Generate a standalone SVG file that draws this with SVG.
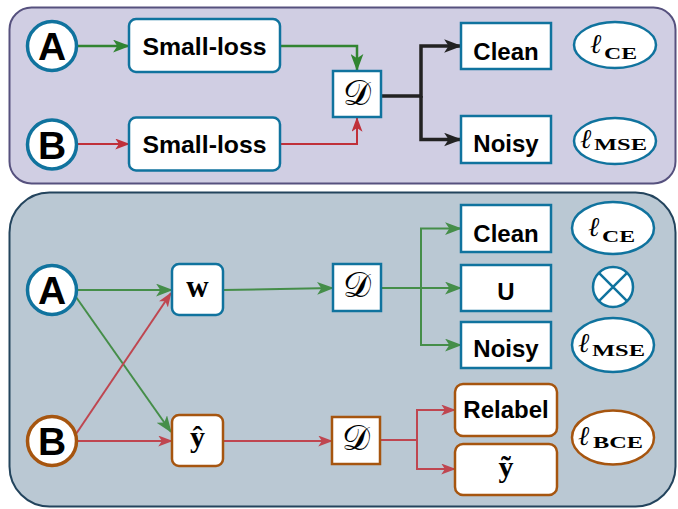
<svg xmlns="http://www.w3.org/2000/svg" width="678" height="509" viewBox="0 0 678 509">
  <style>
    .lbl { font-family: "Liberation Sans", Arial, sans-serif; font-weight: bold; font-size: 24px; fill: #000; text-anchor: middle; }
    .big { font-family: "Liberation Sans", Arial, sans-serif; font-weight: bold; font-size: 39px; fill: #000; text-anchor: middle; }
    .math { font-family: "Liberation Serif", "DejaVu Serif", serif; fill: #000; }
    .ell { font-family: "DejaVu Serif", "Liberation Serif", serif; font-size: 27px; font-style: italic; fill: #000; }
    .cal { font-family: "DejaVu Serif", "Noto Sans", "Liberation Serif", serif; font-size: 35px; fill: #000; text-anchor: middle; }
    .sub { font-family: "Liberation Serif", "DejaVu Serif", serif; font-weight: bold; font-size: 16px; }
    .node-b { fill: #fff; stroke: #10739e; stroke-width: 2.5; }
    .node-o { fill: #fff; stroke: #a6550f; stroke-width: 2.5; }
    .g { fill: none; stroke: #318431; stroke-width: 2.5; }
    .r { fill: none; stroke: #c0303a; stroke-width: 2; }
    .k { fill: none; stroke: #222; stroke-width: 3.5; }
    .soft { opacity: 0.85; }
    .soft .g { stroke-width: 2; }
  </style>
  <defs>
    <marker id="ag" viewBox="0 0 16 12" refX="15" refY="6" markerWidth="17" markerHeight="13" markerUnits="userSpaceOnUse" orient="auto">
      <path d="M0,0 L16,6 L0,12 L4,6 z" fill="#318431"/>
    </marker>
    <marker id="ar" viewBox="0 0 16 12" refX="15" refY="6" markerWidth="15" markerHeight="11" markerUnits="userSpaceOnUse" orient="auto">
      <path d="M0,0 L16,6 L0,12 L4,6 z" fill="#c0303a"/>
    </marker>
    <marker id="ak" viewBox="0 0 16 12" refX="15" refY="6" markerWidth="18" markerHeight="14" markerUnits="userSpaceOnUse" orient="auto">
      <path d="M0,0 L16,6 L0,12 L4,6 z" fill="#222"/>
    </marker>
  </defs>

  <!-- panels -->
  <rect id="panel-top" x="9.5" y="7.5" width="666" height="176" rx="22" fill="#d0cee3" stroke="#56517e" stroke-width="2"/>
  <rect id="panel-bottom" x="9.5" y="192.5" width="666" height="314" rx="40" fill="#bac8d3" stroke="#23445d" stroke-width="2"/>

  <!-- connectors -->
  <g id="connectors">
    <path class="g" d="M78,46 H129" marker-end="url(#ag)"/>
    <path class="r" d="M78,144 H129" marker-end="url(#ar)"/>
    <path class="g" d="M280,46 H357 V70" marker-end="url(#ag)"/>
    <path class="r" d="M280,144 H357 V118" marker-end="url(#ar)"/>
    <path class="k" d="M381,96 H421 V46 H461" marker-end="url(#ak)"/>
    <path class="k" d="M421,96 V139.5 H461" marker-end="url(#ak)"/>

    <g class="soft">
      <path class="g" d="M78,290 H172" marker-end="url(#ag)"/>
      <path class="g" d="M76,297 L171,432" marker-end="url(#ag)"/>
      <path class="r" d="M76,434 L171,293" marker-end="url(#ar)"/>
      <path class="r" d="M78,441 H172" marker-end="url(#ar)"/>
      <path class="g" d="M223,290 L333,288" marker-end="url(#ag)"/>
      <path class="r" d="M223,441 H332" marker-end="url(#ar)"/>
      <path class="g" d="M381,288 H421 V228.5 H461" marker-end="url(#ag)"/>
      <path class="g" d="M421,288 H461" marker-end="url(#ag)"/>
      <path class="g" d="M421,288 V345 H461" marker-end="url(#ag)"/>
      <path class="r" d="M380,440 H417 V410 H455" marker-end="url(#ar)"/>
      <path class="r" d="M417,440 V469 H455" marker-end="url(#ar)"/>
    </g>
  </g>

  <!-- top panel nodes -->
  <g id="top-a">
    <circle cx="52" cy="46" r="24.5" fill="#fff" stroke="#10739e" stroke-width="3.5"/>
    <text class="big" x="52" y="60">A</text>
  </g>
  <g id="top-b">
    <circle cx="52" cy="144.5" r="24.5" fill="#fff" stroke="#10739e" stroke-width="3.5"/>
    <text class="big" x="52" y="159">B</text>
  </g>
  <g id="top-smallloss-a">
    <rect class="node-b" x="129" y="19" width="151" height="53" rx="7"/>
    <text class="lbl" x="204.5" y="55" textLength="124" lengthAdjust="spacingAndGlyphs">Small-loss</text>
  </g>
  <g id="top-smallloss-b">
    <rect class="node-b" x="129" y="117.5" width="151" height="53" rx="7"/>
    <text class="lbl" x="204.5" y="153" textLength="124" lengthAdjust="spacingAndGlyphs">Small-loss</text>
  </g>
  <g id="top-d">
    <rect class="node-b" x="333" y="71" width="48" height="46"/>
    <text class="cal" x="357" y="105">𝒟</text>
  </g>
  <g id="top-clean">
    <rect class="node-b" x="461" y="23" width="90" height="46"/>
    <text class="lbl" x="506" y="60">Clean</text>
  </g>
  <g id="top-noisy">
    <rect class="node-b" x="461" y="116" width="90" height="47"/>
    <text class="lbl" x="506" y="152">Noisy</text>
  </g>
  <g id="top-lce">
    <ellipse cx="615" cy="45" rx="41" ry="23" fill="#fff" stroke="#10739e" stroke-width="2.5"/>
    <text class="ell" x="590" y="53">ℓ</text>
    <text class="sub" x="604" y="59" textLength="33" lengthAdjust="spacingAndGlyphs">CE</text>
  </g>
  <g id="top-lmse">
    <ellipse cx="615" cy="141" rx="41" ry="23" fill="#fff" stroke="#10739e" stroke-width="2.5"/>
    <text class="ell" x="580" y="148">ℓ</text>
    <text class="sub" x="594" y="150" textLength="53" lengthAdjust="spacingAndGlyphs">MSE</text>
  </g>

  <!-- bottom panel nodes -->
  <g id="bot-a">
    <circle cx="52" cy="290" r="24.5" fill="#fff" stroke="#10739e" stroke-width="3.5"/>
    <text class="big" x="52" y="304">A</text>
  </g>
  <g id="bot-b">
    <circle cx="52" cy="441" r="24.5" fill="#fff" stroke="#a6550f" stroke-width="3.5"/>
    <text class="big" x="52" y="455">B</text>
  </g>
  <g id="bot-w">
    <rect class="node-b" x="172" y="264" width="51" height="51" rx="7"/>
    <text class="math" x="197.5" y="297" font-size="31" font-weight="bold" text-anchor="middle">w</text>
  </g>
  <g id="bot-yhat">
    <rect class="node-o" x="172" y="415" width="51" height="51" rx="7"/>
    <text class="math" x="197.5" y="447" font-size="30" font-weight="bold" text-anchor="middle">ŷ</text>
  </g>
  <g id="bot-d1">
    <rect class="node-b" x="333" y="264" width="48" height="47"/>
    <text class="cal" x="357" y="297">𝒟</text>
  </g>
  <g id="bot-d2">
    <rect class="node-o" x="332" y="417" width="48" height="47"/>
    <text class="cal" x="356" y="450">𝒟</text>
  </g>
  <g id="bot-clean">
    <rect class="node-b" x="461" y="205" width="90" height="47"/>
    <text class="lbl" x="506" y="242">Clean</text>
  </g>
  <g id="bot-u">
    <rect class="node-b" x="461" y="265" width="90" height="46"/>
    <text class="lbl" x="506" y="300">U</text>
  </g>
  <g id="bot-noisy">
    <rect class="node-b" x="461" y="322" width="90" height="46"/>
    <text class="lbl" x="506" y="357">Noisy</text>
  </g>
  <g id="bot-relabel">
    <rect class="node-o" x="455" y="384" width="102" height="52" rx="8"/>
    <text class="lbl" x="506" y="418">Relabel</text>
  </g>
  <g id="bot-ytilde">
    <rect class="node-o" x="455" y="444" width="102" height="51" rx="8"/>
    <text class="math" x="506" y="477" font-size="30" font-weight="bold" text-anchor="middle">ỹ</text>
  </g>
  <g id="bot-lce">
    <ellipse cx="613" cy="228" rx="41" ry="26" fill="#fff" stroke="#10739e" stroke-width="2.5"/>
    <text class="ell" x="588" y="236">ℓ</text>
    <text class="sub" x="602" y="242" textLength="33" lengthAdjust="spacingAndGlyphs">CE</text>
  </g>
  <g id="bot-otimes">
    <circle cx="613" cy="287" r="20" fill="#fff" stroke="#10739e" stroke-width="2.5"/>
    <path d="M598.9,272.9 L627.1,301.1 M627.1,272.9 L598.9,301.1" stroke="#10739e" stroke-width="2.5" fill="none"/>
  </g>
  <g id="bot-lmse">
    <ellipse cx="613" cy="345" rx="41" ry="27" fill="#fff" stroke="#10739e" stroke-width="2.5"/>
    <text class="ell" x="578" y="352">ℓ</text>
    <text class="sub" x="592" y="356" textLength="53" lengthAdjust="spacingAndGlyphs">MSE</text>
  </g>
  <g id="bot-lbce">
    <ellipse cx="613" cy="437.5" rx="41" ry="27" fill="#fff" stroke="#a6550f" stroke-width="2.5"/>
    <text class="ell" x="578" y="445">ℓ</text>
    <text class="sub" x="593" y="448" textLength="50" lengthAdjust="spacingAndGlyphs">BCE</text>
  </g>
</svg>
